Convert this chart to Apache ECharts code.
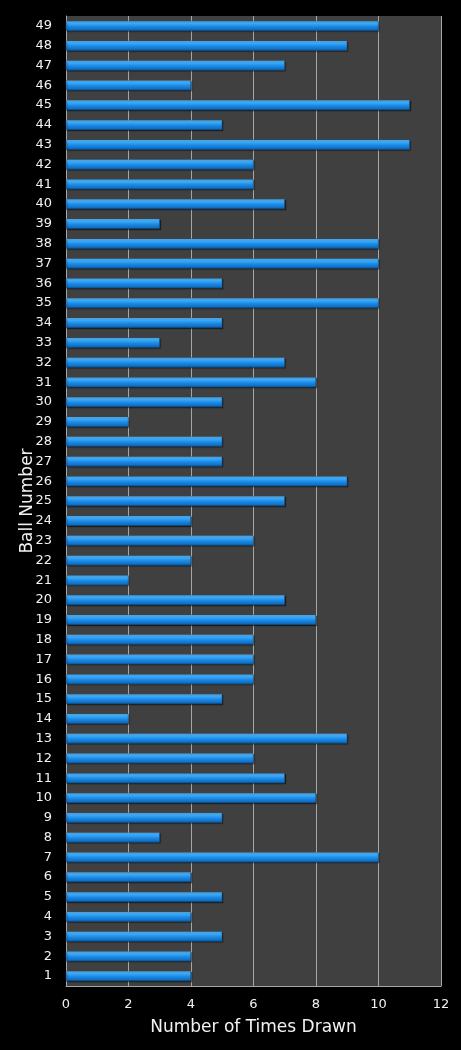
<!DOCTYPE html>
<html>
<head>
<meta charset="utf-8">
<script src="https://cdn.jsdelivr.net/npm/echarts@6/dist/echarts.min.js"></script>
<style>
  html, body { margin: 0; padding: 0; background: #000; }
  #chart { width: 461px; height: 1050px; }
</style>
</head>
<body>
<div id="chart"></div>
<script>
// ball numbers, bottom to top
var balls = [];
for (var b = 1; b <= 49; b++) balls.push(String(b));

// times drawn for ball 1..49
var timesDrawn = [
  4, 4, 5, 4, 5, 4, 10, 3, 5, 8,
  7, 6, 9, 2, 5, 6, 6, 6, 8, 7,
  2, 4, 6, 4, 7, 9, 5, 5, 2, 5,
  8, 7, 3, 5, 10, 5, 10, 10, 3, 7,
  6, 6, 11, 5, 11, 4, 7, 9, 10
];

var xTicks = { min: 0, max: 12, step: 2 };

var chart = echarts.init(document.getElementById('chart'));

var barColor = new echarts.graphic.LinearGradient(0, 0, 0, 1, [
  { offset: 0, color: '#9adcff' },
  { offset: 0.2, color: '#3fb0ff' },
  { offset: 0.55, color: '#1a8ae6' },
  { offset: 0.85, color: '#1170c4' },
  { offset: 1, color: '#0a4f8f' }
]);

var option = {
  backgroundColor: '#000',
  animation: false,
  textStyle: { fontFamily: 'DejaVu Sans' },
  grid: {
    left: 66, right: 20, top: 16, bottom: 64,
    show: true,
    backgroundColor: '#404040',
    borderWidth: 0
  },
  xAxis: {
    type: 'value',
    min: xTicks.min,
    max: xTicks.max,
    interval: xTicks.step,
    name: 'Number of Times Drawn',
    nameLocation: 'middle',
    nameGap: 33,
    nameMoveOverlap: false,
    nameTextStyle: { color: '#f2f2f2', fontSize: 17, fontFamily: 'DejaVu Sans' },
    axisLine: { show: true, lineStyle: { color: '#a6a6a6', width: 1 } },
    axisTick: { show: false },
    axisLabel: { color: '#f2f2f2', fontSize: 13, margin: 12, fontFamily: 'DejaVu Sans' },
    splitLine: { show: true, lineStyle: { color: '#a6a6a6', width: 1 } }
  },
  yAxis: {
    type: 'category',
    data: balls,
    name: 'Ball Number',
    nameLocation: 'middle',
    nameGap: 30,
    nameRotate: 90,
    nameMoveOverlap: false,
    nameTextStyle: { color: '#f2f2f2', fontSize: 17, fontFamily: 'DejaVu Sans' },
    axisLine: { show: true, lineStyle: { color: '#a6a6a6', width: 1 } },
    axisTick: { show: false },
    axisLabel: { color: '#f2f2f2', fontSize: 13, margin: 14, interval: 0, fontFamily: 'DejaVu Sans' },
    splitLine: { show: false }
  },
  series: [{
    type: 'bar',
    data: timesDrawn,
    barWidth: 10,
    itemStyle: {
      color: barColor,
      borderColor: '#0d5a9e',
      borderWidth: 0.5,
      shadowColor: 'rgba(0,0,0,0.45)',
      shadowOffsetX: 1,
      shadowOffsetY: 1,
      shadowBlur: 1
    }
  }]
};

chart.setOption(option);
</script>
</body>
</html>
